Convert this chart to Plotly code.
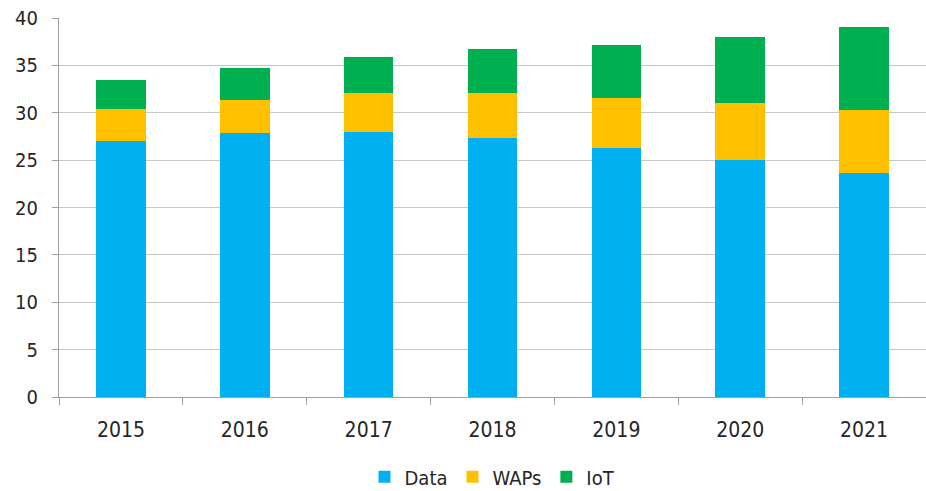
import plotly.graph_objects as go

years = ["2015", "2016", "2017", "2018", "2019", "2020", "2021"]
data_vals = [27.0, 27.85, 27.95, 27.35, 26.3, 25.0, 23.6]
waps_vals = [3.35, 3.5, 4.1, 4.7, 5.3, 6.05, 6.7]
iot_vals = [3.1, 3.35, 3.85, 4.65, 5.6, 6.95, 8.7]

font_family = "DejaVu Sans Condensed, DejaVu Sans, sans-serif"

fig = go.Figure()
fig.add_bar(x=years, y=data_vals, name="Data", marker_color="#00B0F0", marker_line_width=0)
fig.add_bar(x=years, y=waps_vals, name="WAPs", marker_color="#FFC000", marker_line_width=0)
fig.add_bar(x=years, y=iot_vals, name="IoT", marker_color="#00B050", marker_line_width=0)

fig.update_layout(
    barmode="stack",
    bargap=0.6,
    width=926,
    height=491,
    margin=dict(l=59, r=0, t=18, b=94, autoexpand=False),
    plot_bgcolor="white",
    paper_bgcolor="white",
    font=dict(family=font_family, size=20, color="#262626"),
    legend=dict(orientation="h", x=0.5, xanchor="center", y=-0.262, yanchor="bottom",
                font=dict(size=20), traceorder="normal", itemwidth=30,
                bgcolor="rgba(0,0,0,0)"),
    showlegend=True,
)
fig.update_xaxes(
    type="category", automargin=False,
    showline=True, linecolor="#a0a0a0", linewidth=1,
    ticks="outside", tickson="boundaries", ticklen=7, tickcolor="#a0a0a0",
    tickfont=dict(size=21), ticklabelstandoff=14,
    showgrid=False,
)
fig.update_yaxes(
    range=[0, 40], dtick=5, automargin=False,
    showgrid=True, gridcolor="#c8c8c8", gridwidth=1,
    showline=True, linecolor="#a0a0a0", linewidth=1,
    ticks="outside", ticklen=6, tickcolor="#a0a0a0",
    tickfont=dict(size=20), ticklabelstandoff=10,
    zeroline=False,
)

fig.write_html("out.html", config={"displayModeBar": False},
               post_script="document.body.style.margin='0';document.body.style.overflow='hidden';")
